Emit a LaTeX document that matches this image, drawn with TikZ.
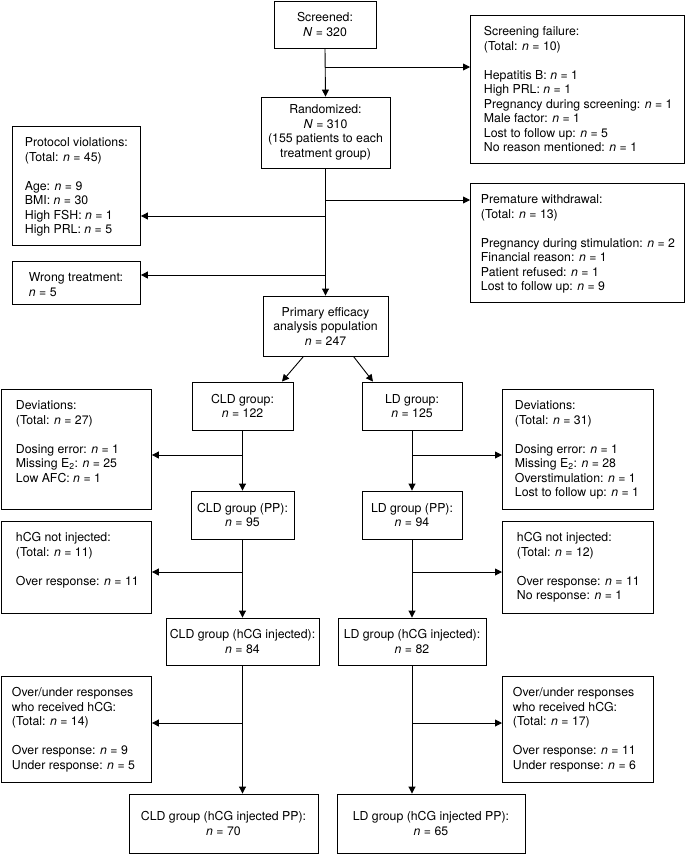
\documentclass[tikz,border=0pt]{standalone}
\usepackage{fontspec}
\setmainfont{TeX Gyre Heros}
\usetikzlibrary{arrows.meta}
\newcommand{\itn}{\textit{n}}
\newcommand{\itN}{\textit{N}}
\newcommand{\sidetext}[4]{\hspace*{#3pt}\parbox[c][\dimexpr #2pt-20pt\relax][t]{\dimexpr #1pt-#3pt-1pt\relax}{\raggedright\strut #4}}
\begin{document}
\begin{tikzpicture}[x=1pt,y=-1pt,
  font=\fontsize{12.3}{14.5}\selectfont,
  mainbox/.style={draw, line width=0.9pt, rectangle, inner sep=0pt, align=center},
  sidebox/.style={draw, line width=0.9pt, rectangle, inner xsep=0pt, inner ysep=10pt, anchor=north west},
  arr/.style={line width=0.9pt, -{Triangle[length=7pt,width=7pt]}},
  ln/.style={line width=0.9pt}]
\useasboundingbox (0,0) rectangle (685,855);

% main column
\node[mainbox, minimum width=102pt, minimum height=47pt] (screened) at (325,24.5) {Screened:\\\itN{} = 320};
\node[mainbox, minimum width=129pt, minimum height=71pt] (rand) at (325.5,132.5) {Randomized:\\\itN{} = 310\\(155 patients to each\\treatment group)};
\node[mainbox, minimum width=125pt, minimum height=60pt] (prim) at (325.5,326) {Primary efficacy\\analysis population\\\itn{} = 247};
\node[mainbox, minimum width=101pt, minimum height=48pt] (cld) at (242.5,406) {CLD group:\\\itn{} = 122};
\node[mainbox, minimum width=100pt, minimum height=48pt] (ld) at (412,406) {LD group:\\\itn{} = 125};
\node[mainbox, minimum width=103pt, minimum height=48pt] (cldpp) at (242.5,515) {CLD group (PP):\\\itn{} = 95};
\node[mainbox, minimum width=100pt, minimum height=48pt] (ldpp) at (412,515) {LD group (PP):\\\itn{} = 94};
\node[mainbox, minimum width=153pt, minimum height=47pt] (cldinj) at (242.5,641.5) {CLD group (hCG injected):\\\itn{} = 84};
\node[mainbox, minimum width=148pt, minimum height=47pt] (ldinj) at (412,641.5) {LD group (hCG injected):\\\itn{} = 82};
\node[mainbox, minimum width=189pt, minimum height=59pt] (cldfin) at (223.5,823.5) {CLD group (hCG injected PP):\\\itn{} = 70};
\node[mainbox, minimum width=188pt, minimum height=59pt] (ldfin) at (431,823.5) {LD group (hCG injected PP):\\\itn{} = 65};

% side boxes
\node[sidebox, minimum width=214pt] (sfail) at (470,15) {\sidetext{214}{148}{13}{Screening failure:\\(Total: \itn{} = 10)\\[\baselineskip]Hepatitis B: \itn{} = 1\\High PRL: \itn{} = 1\\Pregnancy during screening: \itn{} = 1\\Male factor: \itn{} = 1\\Lost to follow up: \itn{} = 5\\No reason mentioned: \itn{} = 1}};
\node[sidebox, minimum width=128pt] (pviol) at (12,126) {\sidetext{128}{119}{12}{Protocol violations:\\(Total: \itn{} = 45)\\[\baselineskip]Age: \itn{} = 9\\BMI: \itn{} = 30\\High FSH: \itn{} = 1\\High PRL: \itn{} = 5}};
\node[sidebox, minimum width=214pt] (pwith) at (470,183) {\sidetext{214}{119}{10}{Premature withdrawal:\\(Total: \itn{} = 13)\\[\baselineskip]Pregnancy during stimulation: \itn{} = 2\\Financial reason: \itn{} = 1\\Patient refused: \itn{} = 1\\Lost to follow up: \itn{} = 9}};
\node[sidebox, minimum width=128pt] (wrong) at (12,261) {\sidetext{128}{43}{16}{Wrong treatment:\\\itn{} = 5}};
\node[sidebox, minimum width=150pt] (devL) at (1,389) {\sidetext{150}{120}{14}{Deviations:\\(Total: \itn{} = 27)\\[\baselineskip]Dosing error: \itn{} = 1\\Missing E\textsubscript{2}: \itn{} = 25\\Low AFC: \itn{} = 1}};
\node[sidebox, minimum width=151pt] (devR) at (502,389) {\sidetext{151}{120}{12}{Deviations:\\(Total: \itn{} = 31)\\[\baselineskip]Dosing error: \itn{} = 1\\Missing E\textsubscript{2}: \itn{} = 28\\Overstimulation: \itn{} = 1\\Lost to follow up: \itn{} = 1}};
\node[sidebox, minimum width=150pt] (hcgL) at (1,521) {\sidetext{150}{92}{14}{hCG not injected:\\(Total: \itn{} = 11)\\[\baselineskip]Over response: \itn{} = 11}};
\node[sidebox, minimum width=151pt] (hcgR) at (502,521) {\sidetext{151}{92}{14}{hCG not injected:\\(Total: \itn{} = 12)\\[\baselineskip]Over response: \itn{} = 11\\No response: \itn{} = 1}};
\node[sidebox, minimum width=150pt] (ouL) at (1,676) {\sidetext{150}{106}{10}{Over/under responses\\who received hCG:\\(Total: \itn{} = 14)\\[\baselineskip]Over response: \itn{} = 9\\Under response: \itn{} = 5}};
\node[sidebox, minimum width=151pt] (ouR) at (502,676) {\sidetext{151}{106}{10}{Over/under responses\\who received hCG:\\(Total: \itn{} = 17)\\[\baselineskip]Over response: \itn{} = 11\\Under response: \itn{} = 6}};

% branch points
\coordinate (b1) at (325,67);
\coordinate (b2) at (325.5,200);
\coordinate (b3) at (325.5,216);
\coordinate (b4) at (325.5,275);
\coordinate (b5) at (242.5,455);
\coordinate (b6) at (412,455);
\coordinate (b7) at (242.5,572);
\coordinate (b8) at (412,572);
\coordinate (b9) at (242.5,723);
\coordinate (b10) at (412,723);

% connectors
\draw[arr] (screened.south) -- (rand.north);
\draw[arr] (b1) -- (sfail.west |- b1);
\draw[arr] (rand.south) -- (prim.north);
\draw[arr] (b2) -- (pwith.west |- b2);
\draw[arr] (b3) -- (pviol.east |- b3);
\draw[arr] (b4) -- (wrong.east |- b4);
\draw[arr] ([xshift=-22pt]prim.south) -- ([xshift=39.5pt]cld.north);
\draw[arr] ([xshift=28pt]prim.south) -- ([xshift=-39pt]ld.north);
\draw[arr] (cld.south) -- (cldpp.north);
\draw[arr] (ld.south) -- (ldpp.north);
\draw[arr] (b5) -- (devL.east |- b5);
\draw[arr] (b6) -- (devR.west |- b6);
\draw[arr] (cldpp.south) -- (cldinj.north);
\draw[arr] (ldpp.south) -- (ldinj.north);
\draw[arr] (b7) -- (hcgL.east |- b7);
\draw[arr] (b8) -- (hcgR.west |- b8);
\draw[arr] (cldinj.south) -- (cldinj.south |- cldfin.north);
\draw[arr] (ldinj.south) -- (ldinj.south |- ldfin.north);
\draw[arr] (b9) -- (ouL.east |- b9);
\draw[arr] (b10) -- (ouR.west |- b10);
\end{tikzpicture}
\end{document}
